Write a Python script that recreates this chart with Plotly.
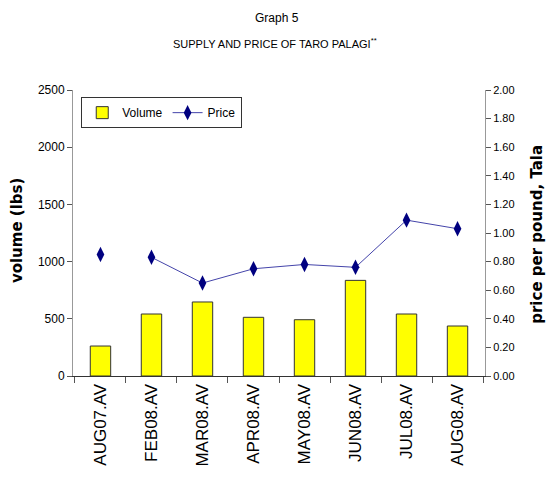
import plotly.graph_objects as go

categories = ["AUG07.AV", "FEB08.AV", "MAR08.AV", "APR08.AV", "MAY08.AV", "JUN08.AV", "JUL08.AV", "AUG08.AV"]
volume = [262, 542, 647, 513, 492, 836, 542, 437]
price = [0.85, 0.83, 0.65, 0.75, 0.78, 0.76, 1.09, 1.03]
vol_ticks = [0, 500, 1000, 1500, 2000, 2500]
price_ticks = [0.0, 0.2, 0.4, 0.6, 0.8, 1.0, 1.2, 1.4, 1.6, 1.8, 2.0]

sans = "Liberation Sans, Arial"
wide = "DejaVu Sans"

fig = go.Figure()
fig.add_trace(go.Bar(
    x=categories, y=volume, name="Volume", width=0.4,
    marker=dict(color="#ffff00", line=dict(color="#333333", width=1)),
))
# first price point is isolated (no connecting line in the original)
fig.add_trace(go.Scatter(
    x=categories[:1], y=price[:1], yaxis="y2", mode="markers", showlegend=False,
    marker=dict(symbol="diamond-tall", size=11, color="#000080"),
))
fig.add_trace(go.Scatter(
    x=categories[1:], y=price[1:], yaxis="y2", mode="lines+markers", name="Price",
    line=dict(color="#4444aa", width=1),
    marker=dict(symbol="diamond-tall", size=11, color="#000080"),
))

annotations = [
    dict(text="Graph 5", x=0.495, y=1.252, xref="paper", yref="paper", xanchor="center",
         yanchor="middle", showarrow=False, font=dict(family=sans, size=12, color="black")),
    dict(text="SUPPLY AND PRICE OF TARO PALAGI<sup>**</sup>", x=0.49, y=1.163, xref="paper", yref="paper",
         xanchor="center", yanchor="middle", showarrow=False, font=dict(family=sans, size=11, color="black")),
    dict(text="<b>volume (lbs)</b>", x=-0.136, y=0.51, xref="paper", yref="paper", textangle=-90,
         xanchor="center", yanchor="middle", showarrow=False, font=dict(family=wide, size=15, color="black")),
    dict(text="<b>price per pound, Tala</b>", x=1.126, y=0.497, xref="paper", yref="paper", textangle=-90,
         xanchor="center", yanchor="middle", showarrow=False, font=dict(family=wide, size=15, color="black")),
]

fig.update_layout(
    width=548, height=495,
    margin=dict(l=73, r=63, t=90, b=119),
    paper_bgcolor="white", plot_bgcolor="white",
    showlegend=True,
    annotations=annotations,
    legend=dict(
        x=0.02, y=0.975, xanchor="left", yanchor="top", orientation="h",
        bordercolor="#333333", borderwidth=1, bgcolor="white",
        font=dict(family=sans, size=12, color="black"),
        itemwidth=30, tracegroupgap=0,
    ),
    xaxis=dict(
        type="category", showgrid=False, ticks="outside", tickson="boundaries",
        ticklen=6, tickcolor="#555555", showline=True, linecolor="#333333",
        tickangle=-90, tickfont=dict(family=sans, size=17, color="black"),
    ),
    yaxis=dict(
        range=[0, 2500], tickvals=vol_ticks, showgrid=False, zeroline=False,
        ticks="outside", ticklen=5, tickcolor="#555555",
        showline=True, linecolor="#999999",
        tickfont=dict(family=sans, size=12, color="black"),
    ),
    yaxis2=dict(
        range=[0, 2], tickvals=price_ticks, tickformat=".2f", overlaying="y", side="right",
        showgrid=False, zeroline=False, ticks="outside", ticklen=5, tickcolor="#555555",
        showline=True, linecolor="#999999",
        tickfont=dict(family=sans, size=11, color="black"),
    ),
    bargap=0.6,
)

fig.write_html("out.html", config={"displayModeBar": False},
               post_script="document.body.style.margin='0';document.body.style.overflow='hidden';")
